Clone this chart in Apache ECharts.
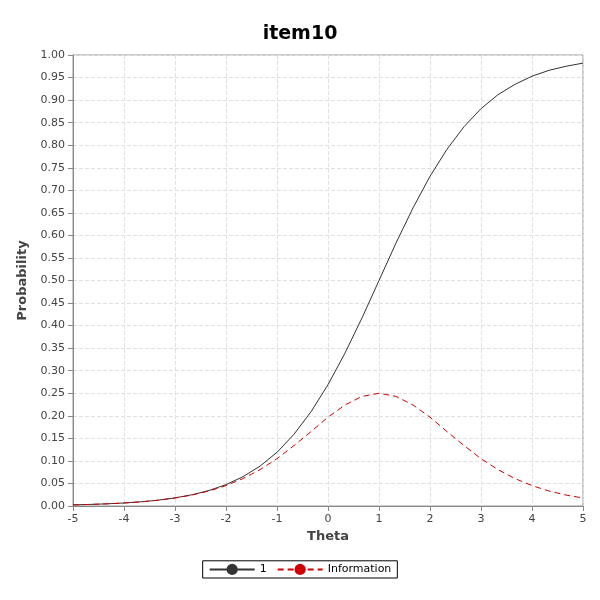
<!DOCTYPE html>
<html>
<head>
<meta charset="utf-8">
<script src="https://cdn.jsdelivr.net/npm/echarts@6/dist/echarts.min.js"></script>
<style>html,body{margin:0;padding:0;background:#fff}#main{width:600px;height:600px}</style>
</head>
<body>
<div id="main"></div>
<script>
var theta = [-5, -4.667, -4.333, -4, -3.667, -3.333, -3, -2.667, -2.333, -2, -1.667, -1.333, -1, -0.667, -0.333, 0,
    0.333, 0.667, 1, 1.333, 1.667, 2, 2.333, 2.667, 3, 3.333, 3.667, 4, 4.333, 4.667, 5];
var prob = [0.0025, 0.0035, 0.0048, 0.0067, 0.0093, 0.0129, 0.018, 0.0249, 0.0344, 0.0474, 0.065, 0.0884, 0.119, 0.159, 0.209, 0.269,
    0.339, 0.417, 0.5, 0.583, 0.661, 0.731, 0.791, 0.841, 0.881, 0.912, 0.935, 0.953, 0.966, 0.975, 0.982];
var info = [0.0025, 0.0034, 0.0048, 0.0066, 0.0092, 0.0128, 0.0177, 0.0243, 0.0332, 0.0452, 0.0608, 0.0806, 0.105, 0.134, 0.165, 0.197,
    0.224, 0.243, 0.25, 0.243, 0.224, 0.197, 0.165, 0.134, 0.105, 0.0806, 0.0608, 0.0452, 0.0332, 0.0243, 0.0177];

function pairs(ys) {
    return theta.map(function (x, i) { return [x, ys[i]]; });
}

var myChart = echarts.init(document.getElementById('main'));
var font = 'DejaVu Sans';
var option = {
    animation: false,
    title: {
        text: 'item10', left: 'center', top: 20,
        textStyle: { fontFamily: font, fontSize: 19, fontWeight: 'bold', color: '#000' }
    },
    legend: {
        bottom: 22, left: 'center',
        itemWidth: 45, itemGap: 10,
        borderColor: '#000', borderWidth: 1, borderRadius: 0, padding: [3, 6],
        textStyle: { fontFamily: font, fontSize: 11, color: '#000' },
        data: ['1', 'Information']
    },
    grid: { left: 73, right: 17, top: 55, bottom: 94, show: true, borderColor: '#999', borderWidth: 1 },
    xAxis: {
        type: 'value', min: -5, max: 5, interval: 1,
        name: 'Theta', nameLocation: 'middle', nameGap: 22,
        nameTextStyle: { fontFamily: font, fontSize: 13, fontWeight: 'bold', color: '#444' },
        axisLine: { onZero: false, lineStyle: { color: '#888' } },
        axisTick: { lineStyle: { color: '#888' } },
        axisLabel: { fontFamily: font, fontSize: 11, color: '#444' },
        splitLine: { lineStyle: { type: 'dashed', color: '#e0e0e0' } }
    },
    yAxis: {
        type: 'value', min: 0, max: 1, interval: 0.05,
        name: 'Probability', nameLocation: 'middle', nameGap: 44,
        nameTextStyle: { fontFamily: font, fontSize: 13, fontWeight: 'bold', color: '#444' },
        axisLine: { show: true, onZero: false, lineStyle: { color: '#888' } },
        axisTick: { show: true, lineStyle: { color: '#888' } },
        axisLabel: { fontFamily: font, fontSize: 11, color: '#444', formatter: function (v) { return v.toFixed(2); } },
        splitLine: { lineStyle: { type: 'dashed', color: '#e0e0e0' } }
    },
    series: [
        {
            name: '1', type: 'line', data: pairs(prob), symbol: 'none',
            lineStyle: { color: '#333', width: 1 }, itemStyle: { color: '#333' }
        },
        {
            name: 'Information', type: 'line', data: pairs(info), symbol: 'none',
            lineStyle: { color: '#d00000', width: 1, type: [6, 4] }, itemStyle: { color: '#d00000' }
        }
    ]
};
myChart.setOption(option, true);
</script>
</body>
</html>
